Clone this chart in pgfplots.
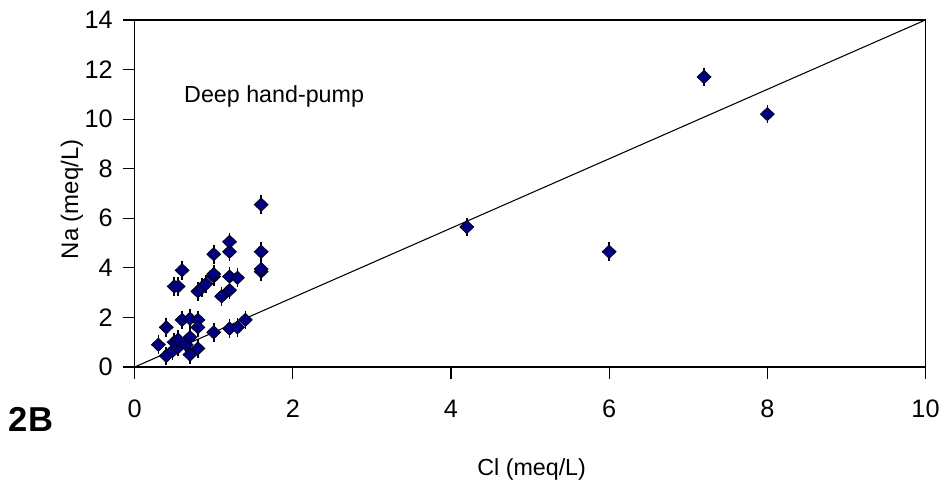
\documentclass[border=0pt]{standalone}
\usepackage{pgfplots}
\pgfplotsset{compat=1.18}
\usepackage{pgfplotstable}
\usepackage{fontspec}
\setmainfont{Liberation Sans}
\definecolor{navy}{RGB}{0,0,128}
\pgfplotstableread{
x y
0.30 0.90
0.40 1.60
0.40 0.45
0.48 0.65
0.50 1.00
0.55 0.80
0.55 1.10
0.65 0.90
0.70 0.50
0.70 1.20
0.80 0.75
0.60 1.90
0.70 1.95
0.80 1.90
0.80 1.60
1.00 1.40
1.20 1.55
1.30 1.60
1.40 1.90
0.50 3.25
0.55 3.25
0.60 3.90
0.80 3.05
0.85 3.20
0.90 3.35
1.00 3.65
1.00 3.75
1.10 2.85
1.20 3.10
1.20 3.65
1.30 3.60
1.00 4.55
1.20 4.65
1.20 5.05
1.60 4.65
1.60 3.85
1.60 3.95
1.60 6.55
4.20 5.65
6.00 4.65
7.20 11.70
8.00 10.20
}\samples
\pgfplotstableread{
x y
0 0
10 14
}\fitline
\begin{document}
\begin{tikzpicture}
\begin{axis}[
  at={(0,0)}, anchor=south west,
  scale only axis,
  width=594.75pt, height=261pt,
  xmin=0, xmax=10, ymin=0, ymax=14,
  xtick={0,2,...,10}, ytick={0,2,...,14},
  tick pos=left,
  tick align=outside, major tick length=9pt,
  tick style={black, line width=0.9pt},
  axis line style={black, line width=1pt},
  /pgf/number format/assume math mode=true,
  ticklabel style={font=\fontsize{19}{22}\selectfont},
  xticklabel style={yshift=-12pt},
  yticklabel style={xshift=-4pt},
  xlabel={Cl (meq/L)},
  ylabel={Na (meq/L)},
  every axis x label/.style={at={(axis description cs:0.502,0)}, anchor=center, yshift=-77.25pt, font=\fontsize{17.5}{20}\selectfont},
  every axis y label/.style={at={(axis description cs:-0.0794,0.483)}, anchor=center, rotate=90, font=\fontsize{18}{21}\selectfont},
  clip=false,
]
\addplot[black, line width=0.8pt] table {\fitline};
\addplot[only marks, mark=|, mark size=7pt, mark options={black, line width=1.2pt}] table {\samples};
\addplot[only marks, mark=diamond*, mark size=5pt, mark options={xscale=1.4, fill=navy, draw=black, line width=0.5pt}] table {\samples};
\end{axis}
\node[anchor=west, font=\fontsize{17.5}{20}\selectfont] at (33.75pt,203.25pt) {Deep hand-pump};
\node[anchor=center, font=\fontsize{26}{30}\selectfont\bfseries] at (-78pt,-39.75pt) {2B};
\path[use as bounding box] (-101.25pt,-87.75pt) rectangle (606.75pt,276pt);
\end{tikzpicture}
\end{document}
